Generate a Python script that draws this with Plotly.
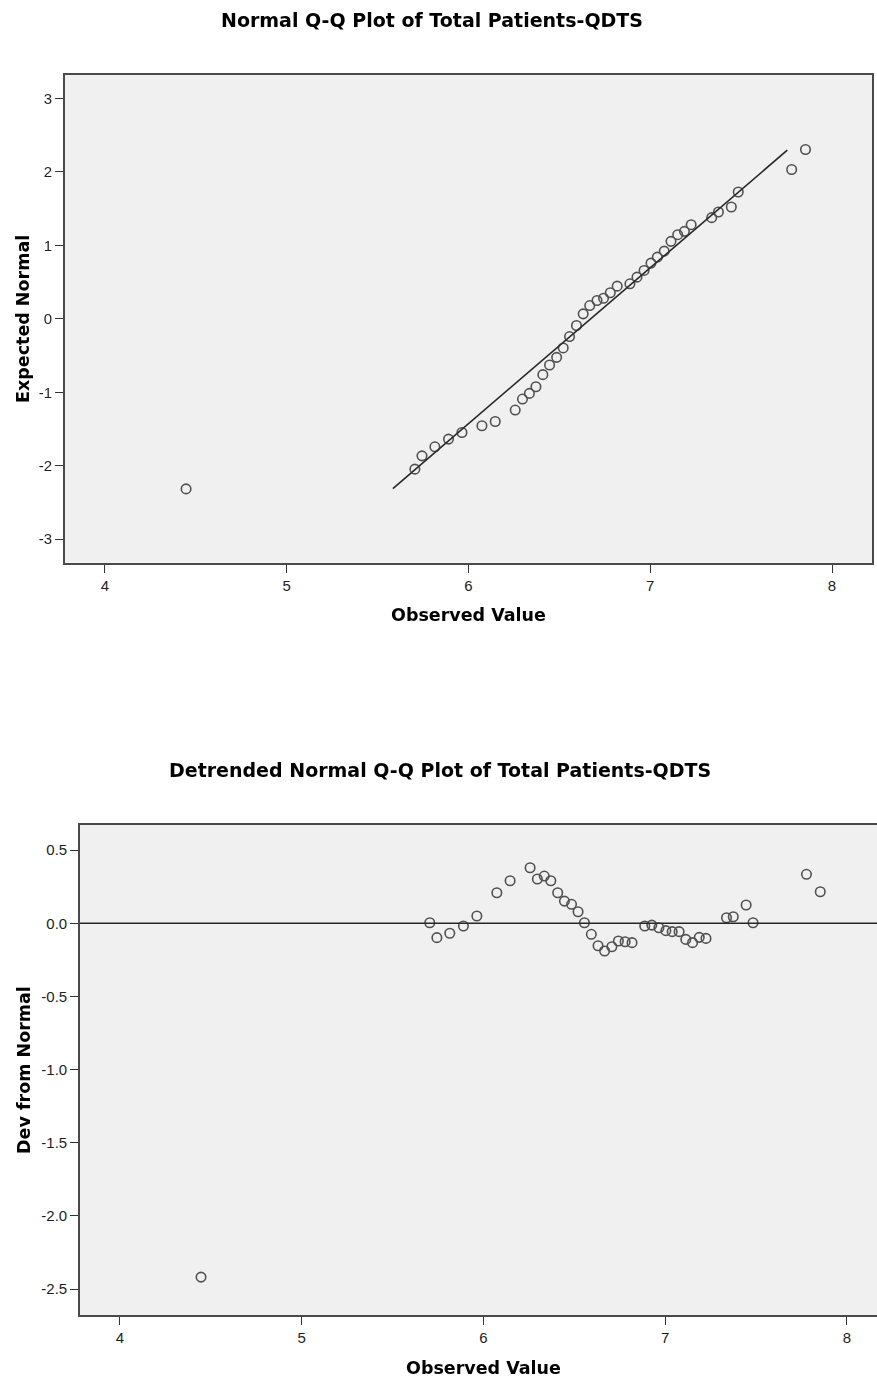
import plotly.graph_objects as go

# ---------------- data ----------------
observed = [4.446, 5.705, 5.744, 5.815, 5.890, 5.964, 6.074, 6.147, 6.257, 6.297,
            6.335, 6.371, 6.409, 6.446, 6.485, 6.521, 6.556, 6.594, 6.631, 6.667,
            6.707, 6.743, 6.780, 6.818, 6.888, 6.927, 6.966, 7.004, 7.039, 7.077,
            7.114, 7.151, 7.188, 7.225, 7.338, 7.375, 7.446, 7.484, 7.778, 7.854]

expected_normal = [-2.315, -2.046, -1.865, -1.742, -1.637, -1.547, -1.456, -1.397, -1.242, -1.092,
                   -1.015, -0.924, -0.760, -0.628, -0.524, -0.396, -0.241, -0.091, 0.068, 0.181,
                   0.250, 0.281, 0.355, 0.445, 0.477, 0.568, 0.659, 0.759, 0.840, 0.922,
                   1.055, 1.146, 1.191, 1.282, 1.378, 1.455, 1.523, 1.727, 2.033, 2.306]

dev_from_normal = [-2.418, 0.004, -0.098, -0.068, -0.018, 0.050, 0.209, 0.291, 0.380, 0.303,
                   0.323, 0.291, 0.209, 0.152, 0.130, 0.079, 0.004, -0.075, -0.153, -0.189,
                   -0.160, -0.121, -0.126, -0.132, -0.018, -0.012, -0.030, -0.050, -0.057, -0.057,
                   -0.110, -0.132, -0.096, -0.103, 0.038, 0.045, 0.125, 0.004, 0.335, 0.216]

ref_line_x = [5.584, 7.754]
ref_line_y = [-2.310, 2.296]
zero_level = 0.0

x_ticks = [4, 5, 6, 7, 8]
x_tick_labels = ["4", "5", "6", "7", "8"]
qq_y_ticks = [-3, -2, -1, 0, 1, 2, 3]
qq_y_tick_labels = ["-3", "-2", "-1", "0", "1", "2", "3"]
dev_y_ticks = [-2.5, -2.0, -1.5, -1.0, -0.5, 0.0, 0.5]
dev_y_tick_labels = ["-2.5", "-2.0", "-1.5", "-1.0", "-0.5", "0.0", "0.5"]

title_top = "Normal Q-Q Plot of Total Patients-QDTS"
title_bottom = "Detrended Normal Q-Q Plot of Total Patients-QDTS"
x_title = "Observed Value"
y_title_top = "Expected Normal"
y_title_bottom = "Dev from Normal"

# ---------------- layout helpers ----------------
W, H = 877, 1382


def fx(p):
    return p / W


def fy(p):
    return 1 - p / H


TITLE_FONT = dict(family="DejaVu Sans", size=19, color="#000000")
AXT_FONT = dict(family="DejaVu Sans", size=17.5, color="#000000")
TICK_FONT = dict(family="Liberation Sans, Arial, sans-serif", size=15, color="#1e1e1e")

marker = dict(symbol="circle-open", size=9.5, color="#2e2e2e", line=dict(width=1.6))

fig = go.Figure()
fig.add_trace(go.Scatter(x=ref_line_x, y=ref_line_y, mode="lines",
                         line=dict(color="#262626", width=1.6),
                         xaxis="x", yaxis="y", hoverinfo="skip", showlegend=False))
fig.add_trace(go.Scatter(x=observed, y=expected_normal, mode="markers", marker=marker,
                         opacity=0.82, xaxis="x", yaxis="y", showlegend=False))
fig.add_trace(go.Scatter(x=observed, y=dev_from_normal, mode="markers", marker=marker,
                         opacity=0.82, xaxis="x2", yaxis="y2", showlegend=False))

axis_style = dict(showgrid=False, zeroline=False, showline=True, linecolor="#4a4a4a",
                  linewidth=1.6, ticks="outside", ticklen=8, tickwidth=1.4,
                  tickcolor="#333333", tickfont=TICK_FONT)

fig.update_layout(
    width=W, height=H, autosize=False,
    margin=dict(l=0, r=0, t=0, b=0, pad=0),
    paper_bgcolor="white", plot_bgcolor="#f0f0f0",
    showlegend=False,
    xaxis=dict(domain=[fx(65), fx(872)], anchor="y", range=[3.78, 8.22],
               tickvals=x_ticks, ticktext=x_tick_labels, mirror=True, **axis_style),
    yaxis=dict(domain=[fy(562.7), fy(75)], anchor="x", range=[-3.32, 3.32],
               tickvals=qq_y_ticks, ticktext=qq_y_tick_labels, mirror=True, **axis_style),
    xaxis2=dict(domain=[fx(80), 1.0], anchor="y2", range=[3.7799, 8.1662],
                tickvals=x_ticks, ticktext=x_tick_labels, mirror=True, **axis_style),
    yaxis2=dict(domain=[fy(1315), fy(825)], anchor="x2", range=[-2.677, 0.672],
                tickvals=dev_y_ticks, ticktext=dev_y_tick_labels, mirror=False, **axis_style),
    shapes=[dict(type="line", xref="x2 domain", x0=0, x1=1, yref="y2",
                 y0=zero_level, y1=zero_level, line=dict(color="#262626", width=1.6),
                 layer="below")],
)

annotations = [
    dict(text="<b>%s</b>" % title_top, x=fx(431.7), y=fy(20), font=TITLE_FONT),
    dict(text="<b>%s</b>" % title_bottom, x=fx(440), y=fy(770), font=TITLE_FONT),
    dict(text="<b>%s</b>" % x_title, x=fx(468.5), y=fy(615), font=AXT_FONT),
    dict(text="<b>%s</b>" % x_title, x=fx(484), y=fy(1368), font=AXT_FONT),
    dict(text="<b>%s</b>" % y_title_top, x=fx(23), y=fy(319), font=AXT_FONT, textangle=-90),
    dict(text="<b>%s</b>" % y_title_bottom, x=fx(24), y=fy(1070), font=AXT_FONT, textangle=-90),
]
for a in annotations:
    a.update(xref="paper", yref="paper", xanchor="center", yanchor="middle", showarrow=False)
fig.update_layout(annotations=annotations)

fig.write_html("out.html", config={"displayModeBar": False},
               post_script="document.body.style.margin='0';document.body.style.overflow='hidden';")
